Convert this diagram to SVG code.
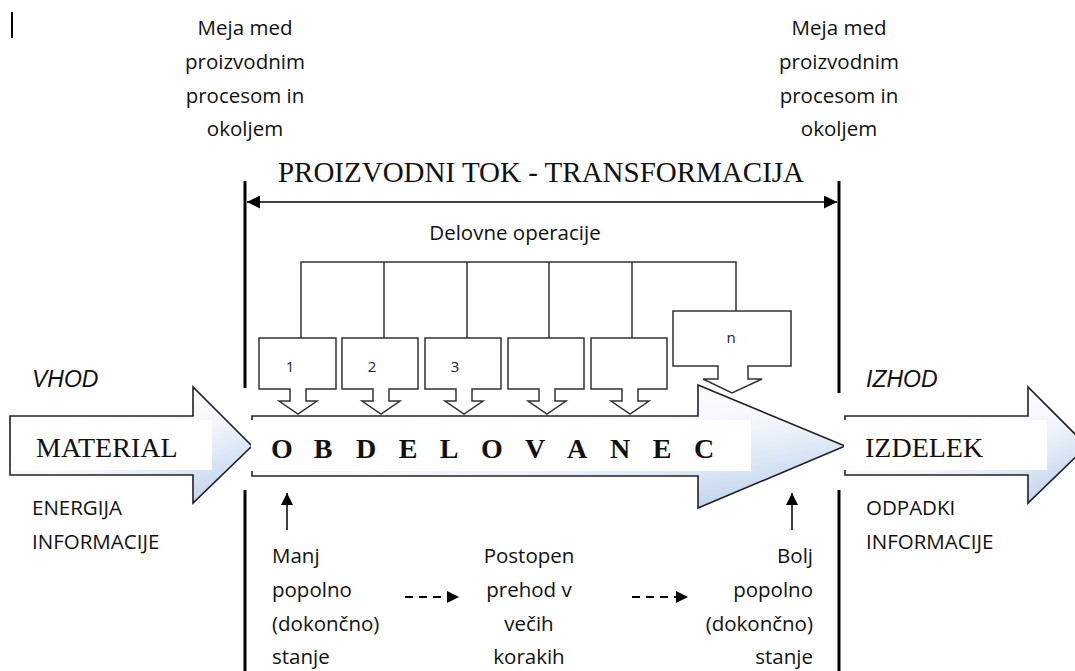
<svg xmlns="http://www.w3.org/2000/svg" width="1075" height="671" viewBox="0 0 1075 671">
<defs>
<linearGradient id="blu" x1="0.35" y1="0.2" x2="1" y2="1">
<stop offset="0" stop-color="#ffffff"/>
<stop offset="0.4" stop-color="#f2f6fc"/>
<stop offset="1" stop-color="#b4cbea"/>
</linearGradient>
<marker id="ah" viewBox="0 0 10 10" refX="10" refY="5" markerWidth="13" markerHeight="13" markerUnits="userSpaceOnUse" orient="auto-start-reverse">
<path d="M0,0 L10,5 L0,10 Z" fill="#000"/>
</marker>
<marker id="ah2" viewBox="0 0 10 10" refX="10" refY="5" markerWidth="12" markerHeight="12" markerUnits="userSpaceOnUse" orient="auto">
<path d="M0,0 L10,5 L0,10 Z" fill="#000"/>
</marker>
</defs>
<style>
.sans{font-family:"Open Sans","Liberation Sans",sans-serif;font-size:20.5px;fill:#111}
.serif{font-family:"Liberation Serif","Times New Roman",serif;fill:#111}
.big{stroke:#222;stroke-width:1.6;fill:url(#blu)}
.box{fill:#fff;stroke:#333;stroke-width:1.5}
.comb{fill:none;stroke:#333;stroke-width:1.5}
.bound{stroke:#000;stroke-width:3}
.num{font-family:"Open Sans","Liberation Sans",sans-serif;font-size:15px;fill:#1c2440}
.ital{font-family:"Liberation Sans",Arial,sans-serif;font-style:italic;font-size:23px;fill:#111}
</style>
<rect width="1075" height="671" fill="#fff"/>
<line x1="12" y1="12" x2="12" y2="38" stroke="#000" stroke-width="2"/>

<g id="labels-top">
<text class="sans" text-anchor="middle"><tspan x="245" y="35">Meja med</tspan><tspan x="245" y="69">proizvodnim</tspan><tspan x="245" y="103">procesom in</tspan><tspan x="245" y="136">okoljem</tspan></text>
<text class="sans" text-anchor="middle"><tspan x="839" y="35">Meja med</tspan><tspan x="839" y="69">proizvodnim</tspan><tspan x="839" y="103">procesom in</tspan><tspan x="839" y="136">okoljem</tspan></text>
<text class="serif" x="541" y="182" text-anchor="middle" font-size="29">PROIZVODNI TOK - TRANSFORMACIJA</text>
<text class="sans" x="515" y="240" text-anchor="middle">Delovne operacije</text>
</g>

<g id="boundaries">
<line class="bound" x1="245" y1="181" x2="245" y2="388"/>
<line class="bound" x1="245" y1="490" x2="245" y2="671"/>
<line class="bound" x1="839" y1="181" x2="839" y2="393"/>
<line class="bound" x1="839" y1="490" x2="839" y2="671"/>
</g>

<g id="connectors">
<line x1="247" y1="202" x2="837" y2="202" stroke="#000" stroke-width="1.5" marker-start="url(#ah)" marker-end="url(#ah)"/>
<path class="comb" d="M301,338 V262 H736 V311 M384,262 V338 M467,262 V338 M549,262 V338 M632,262 V338"/>
<line x1="287" y1="530" x2="287" y2="493" stroke="#000" stroke-width="1.5" marker-end="url(#ah2)"/>
<line x1="792" y1="530" x2="792" y2="493" stroke="#000" stroke-width="1.5" marker-end="url(#ah2)"/>
<line x1="405" y1="597" x2="459" y2="597" stroke="#000" stroke-width="2" stroke-dasharray="8,6" marker-end="url(#ah2)"/>
<line x1="632" y1="597" x2="688" y2="597" stroke="#000" stroke-width="2" stroke-dasharray="8,6" marker-end="url(#ah2)"/>
</g>

<g id="vhod">
<text class="ital" x="32" y="387">VHOD</text>
<path class="big" d="M10,416 L193,416 L193,387 L252,446 L193,503 L193,475 L10,475 Z"/>
<rect x="14" y="420" width="198" height="50" fill="#fff"/>
<text class="serif" x="36" y="457" font-size="28">MATERIAL</text>
<text class="sans"><tspan x="32" y="515">ENERGIJA</tspan><tspan x="32" y="549">INFORMACIJE</tspan></text>
</g>

<g id="obdelovanec">
<path class="big" d="M252,416 L698,416 L698,385 L845,446 L698,508 L698,476 L252,476 Z"/>
<rect x="251" y="420" width="500" height="51" fill="#fff"/>
<text class="serif" y="458" font-size="28" font-weight="bold" text-anchor="middle" x="282 323 366 408 449 492 535 577 620 662 704">OBDELOVANEC</text>
</g>

<g id="izhod">
<text class="ital" x="866" y="387">IZHOD</text>
<path class="big" d="M845,416 L1028,416 L1028,387 L1087,446 L1028,503 L1028,475 L845,475 Z"/>
<rect x="844" y="420" width="203" height="50" fill="#fff"/>
<text class="serif" x="865" y="457" font-size="28">IZDELEK</text>
<text class="sans"><tspan x="866" y="515">ODPADKI</tspan><tspan x="866" y="549">INFORMACIJE</tspan></text>
</g>

<g id="op1">
<path class="box" d="M259,338 H336 V389 H306 V401 H317 L298,414 L279,401 H290 V389 H259 Z"/>
<text class="num" x="290" y="372" text-anchor="middle">1</text>
</g>
<g id="op2">
<path class="box" d="M342,338 H418 V389 H389 V401 H400 L381,414 L362,401 H373 V389 H342 Z"/>
<text class="num" x="372" y="372" text-anchor="middle">2</text>
</g>
<g id="op3">
<path class="box" d="M425,338 H501 V389 H472 V401 H483 L464,414 L445,401 H456 V389 H425 Z"/>
<text class="num" x="455" y="372" text-anchor="middle">3</text>
</g>
<g id="op4">
<path class="box" d="M508,338 H584 V389 H555 V401 H566 L547,414 L528,401 H539 V389 H508 Z"/>
</g>
<g id="op5">
<path class="box" d="M591,338 H667 V389 H638 V401 H649 L630,414 L611,401 H622 V389 H591 Z"/>
</g>
<g id="opn">
<path class="box" d="M673,311 H791 V366 H748 V379 H762 L732,393 L703,379 H718 V366 H673 Z"/>
<text class="num" x="731" y="343" text-anchor="middle">n</text>
</g>

<g id="states">
<text class="sans"><tspan x="272" y="563">Manj</tspan><tspan x="272" y="597">popolno</tspan><tspan x="272" y="631">(dokončno)</tspan><tspan x="272" y="664">stanje</tspan></text>
<text class="sans" text-anchor="middle"><tspan x="529" y="563">Postopen</tspan><tspan x="529" y="597">prehod v</tspan><tspan x="529" y="631">večih</tspan><tspan x="529" y="664">korakih</tspan></text>
<text class="sans" text-anchor="end"><tspan x="813" y="563">Bolj</tspan><tspan x="813" y="597">popolno</tspan><tspan x="813" y="631">(dokončno)</tspan><tspan x="813" y="664">stanje</tspan></text>
</g>
</svg>
